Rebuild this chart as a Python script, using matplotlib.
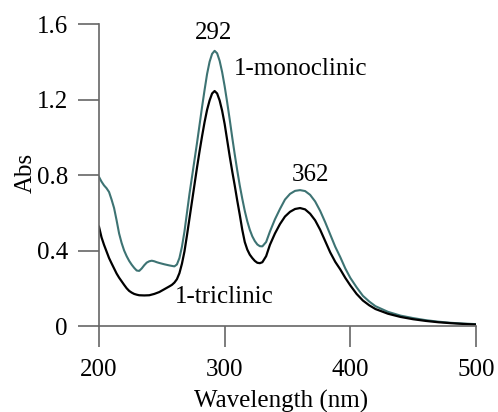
import matplotlib
matplotlib.use("Agg")
import matplotlib.pyplot as plt

plt.rcParams['font.family'] = ['Liberation Serif', 'DejaVu Serif']

# Wavelengths (nm) and absorbance for 1-triclinic (black)
wl_tri = [200, 202, 204, 206, 208, 210, 212, 214, 216, 218, 220, 222, 224, 226, 228, 230,
          232, 236, 240, 244, 248, 252, 256, 258, 260, 262, 264, 266, 268, 270, 272, 274,
          276, 278, 280, 282, 284, 286, 288, 290, 292, 294, 296, 298, 300, 302, 304, 306,
          308, 310, 312, 314, 316, 318, 320, 322, 324, 326, 328, 330, 333, 336, 340, 344,
          348, 352, 356, 360, 364, 368, 372, 376, 380, 384, 388, 392, 396, 400, 405, 410,
          415, 420, 430, 440, 450, 460, 470, 480, 490, 500]
abs_tri = [0.526, 0.47, 0.43, 0.395, 0.36, 0.332, 0.305, 0.278, 0.256, 0.237, 0.218, 0.2, 0.186, 0.177, 0.17, 0.166,
           0.163, 0.162, 0.163, 0.17, 0.18, 0.195, 0.21, 0.218, 0.23, 0.248, 0.28, 0.33, 0.395, 0.48, 0.57, 0.66,
           0.75, 0.84, 0.925, 1.005, 1.08, 1.145, 1.195, 1.232, 1.245, 1.232, 1.195, 1.14, 1.07, 0.985, 0.90, 0.82,
           0.745, 0.665, 0.59, 0.51, 0.445, 0.405, 0.378, 0.36, 0.345, 0.335, 0.333, 0.338, 0.37, 0.43, 0.49, 0.54,
           0.58, 0.605, 0.62, 0.625, 0.618, 0.595, 0.56, 0.51, 0.45, 0.39, 0.34, 0.30, 0.255, 0.215, 0.17, 0.135,
           0.11, 0.09, 0.065, 0.048, 0.036, 0.027, 0.02, 0.015, 0.011, 0.008]

# Wavelengths (nm) and absorbance for 1-monoclinic (teal)
wl_mono = [200, 202, 204, 206, 208, 210, 212, 214, 216, 218, 220, 222, 224, 226, 228, 230,
           232, 234, 236, 238, 240, 242, 244, 246, 248, 252, 256, 260, 262, 264, 266, 268,
           270, 272, 274, 276, 278, 280, 282, 284, 286, 288, 290, 292, 294, 296, 298, 300,
           302, 304, 306, 308, 310, 312, 314, 316, 318, 320, 322, 324, 326, 328, 330, 333,
           336, 340, 344, 348, 352, 356, 360, 364, 368, 372, 376, 380, 384, 388, 392, 396,
           400, 405, 410, 415, 420, 430, 440, 450, 460, 470, 480, 490, 500]
abs_mono = [0.79, 0.765, 0.745, 0.73, 0.71, 0.67, 0.625, 0.56, 0.49, 0.44, 0.40, 0.37, 0.345, 0.325, 0.308, 0.294,
            0.292, 0.305, 0.322, 0.336, 0.343, 0.346, 0.343, 0.338, 0.334, 0.327, 0.321, 0.316, 0.326, 0.36, 0.42, 0.50,
            0.60, 0.70, 0.79, 0.88, 0.97, 1.065, 1.16, 1.25, 1.335, 1.40, 1.442, 1.458, 1.445, 1.405, 1.345, 1.27,
            1.185, 1.095, 1.00, 0.91, 0.825, 0.745, 0.675, 0.61, 0.555, 0.51, 0.475, 0.45, 0.432, 0.423, 0.422, 0.445,
            0.50, 0.565, 0.62, 0.67, 0.70, 0.716, 0.72, 0.715, 0.695, 0.66, 0.61, 0.55, 0.485, 0.42, 0.365, 0.305,
            0.255, 0.205, 0.16, 0.13, 0.105, 0.075, 0.055, 0.042, 0.031, 0.023, 0.017, 0.013, 0.01]

x_ticks = [200, 300, 400, 500]
y_ticks = [0, 0.4, 0.8, 1.2, 1.6]
y_ticklabels = ['0', '0.4', '0.8', '1.2', '1.6']

fig = plt.figure(figsize=(4.98, 4.12), dpi=100)
ax = fig.add_axes([0.1988, 0.2087, 0.757, 0.733])

ax.plot(wl_mono, abs_mono, color='#3d7373', lw=1.5)
ax.plot(wl_tri, abs_tri, color='black', lw=1.6)

ax.set_xlim(200, 500)
ax.set_ylim(0, 1.6)
ax.set_xticks(x_ticks)
ax.set_yticks(y_ticks)
ax.set_yticklabels(y_ticklabels)

for s in ['top', 'right']:
    ax.spines[s].set_visible(False)
for s in ['left', 'bottom']:
    ax.spines[s].set_color('#666666')
    ax.spines[s].set_linewidth(1.2)
ax.tick_params(axis='both', direction='out', length=15, width=1.2, color='#666666',
               labelsize=18, labelcolor='black')
ax.tick_params(axis='x', pad=9)
ax.tick_params(axis='y', pad=7.5)

ax.set_xlabel('Wavelength (nm)', fontsize=18)
ax.xaxis.set_label_coords(0.482, -0.21)
ax.set_ylabel('Abs', fontsize=18)
ax.yaxis.set_label_coords(-0.165, 0.507)

ax.text(291, 1.55, '292', fontsize=18, ha='center', va='center')
ax.text(307, 1.36, '1-monoclinic', fontsize=18, ha='left', va='center')
ax.text(368, 0.80, '362', fontsize=18, ha='center', va='center')
ax.text(260, 0.155, '1-triclinic', fontsize=18, ha='left', va='center')

fig.savefig('out.png', dpi=100)
